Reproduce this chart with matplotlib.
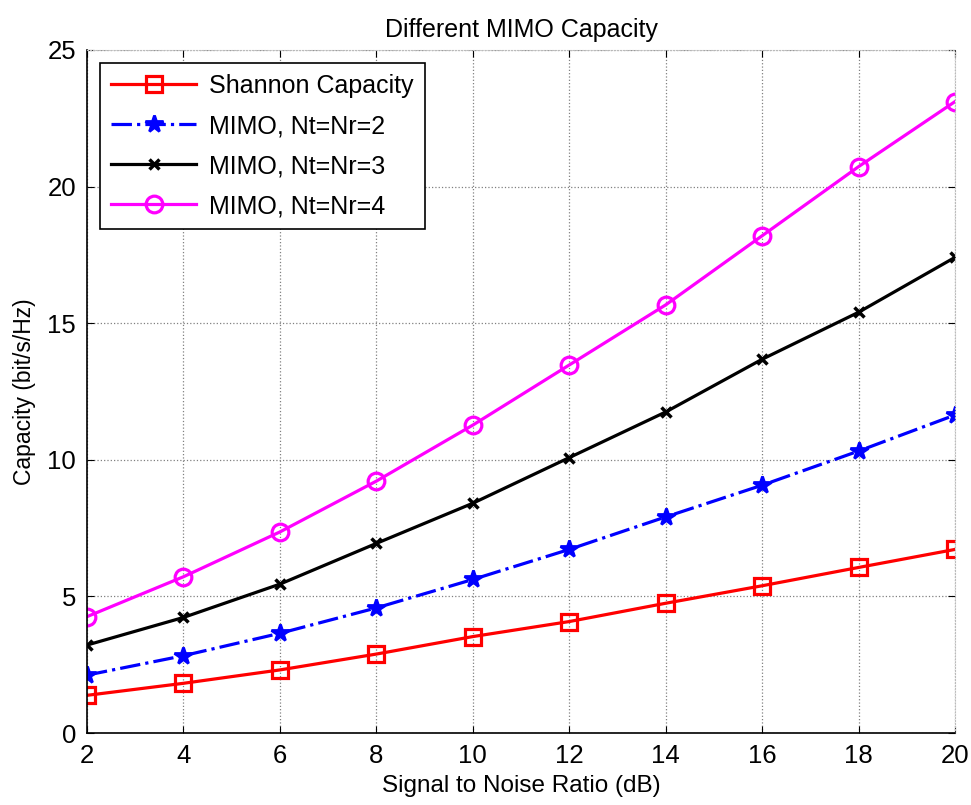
import numpy as np
import matplotlib.pyplot as plt

plt.rcParams['font.family'] = ['Liberation Sans', 'DejaVu Sans']

# SNR values in dB and capacities in bit/s/Hz
snr_db = [2, 4, 6, 8, 10, 12, 14, 16, 18, 20]
cap_shannon = [1.38, 1.82, 2.31, 2.89, 3.53, 4.08, 4.75, 5.39, 6.06, 6.72]
cap_mimo2 = [2.12, 2.83, 3.65, 4.58, 5.62, 6.72, 7.91, 9.07, 10.32, 11.64]
cap_mimo3 = [3.22, 4.23, 5.45, 6.94, 8.41, 10.08, 11.75, 13.68, 15.40, 17.41]
cap_mimo4 = [4.26, 5.72, 7.36, 9.22, 11.27, 13.47, 15.67, 18.20, 20.73, 23.11]

fig = plt.figure(figsize=(9.71, 8.05), dpi=100)
ax = fig.add_axes([0.0896, 0.0894, 0.8939, 0.8485])

ax.plot(snr_db, cap_shannon, '-s', color='red', lw=2.3, ms=11,
        mfc='none', mew=2.3, label='Shannon Capacity')
ax.plot(snr_db, cap_mimo2, '-.*', color='blue', lw=2.3, ms=13,
        mew=2, label='MIMO, Nt=Nr=2')
ax.plot(snr_db, cap_mimo3, '-x', color='black', lw=2.3, ms=7,
        mew=2.5, label='MIMO, Nt=Nr=3')
ax.plot(snr_db, cap_mimo4, '-o', color='magenta', lw=2.3, ms=12,
        mfc='none', mew=2.3, label='MIMO, Nt=Nr=4')

ax.set_xlim(2, 20)
ax.set_ylim(0, 25)
ax.set_xticks(np.arange(2, 21, 2))
ax.set_yticks(np.arange(0, 26, 5))
ax.tick_params(direction='in', top=True, right=True, labelsize=18.5, length=5, pad=8)
ax.grid(True, ls=':', color='gray', lw=0.9)
for side in ['top', 'right']:
    ax.spines[side].set_color('#bbbbbb')
    ax.spines[side].set_linestyle(':')
for side in ['left', 'bottom']:
    ax.spines[side].set_linewidth(1.2)

ax.set_title('Different MIMO Capacity', fontsize=18, pad=9)
ax.set_xlabel('Signal to Noise Ratio (dB)', fontsize=17.5, labelpad=5)
ax.set_ylabel('Capacity (bit/s/Hz)', fontsize=16.5, labelpad=8)

leg = ax.legend(loc='upper left', bbox_to_anchor=(0.015, 0.981), borderaxespad=0,
                fontsize=18, fancybox=False, framealpha=1, edgecolor='black',
                handlelength=3.4, handletextpad=0.5, borderpad=0.45,
                labelspacing=0.64)
leg.get_frame().set_linewidth(1.2)

fig.savefig('out.png', dpi=100)
